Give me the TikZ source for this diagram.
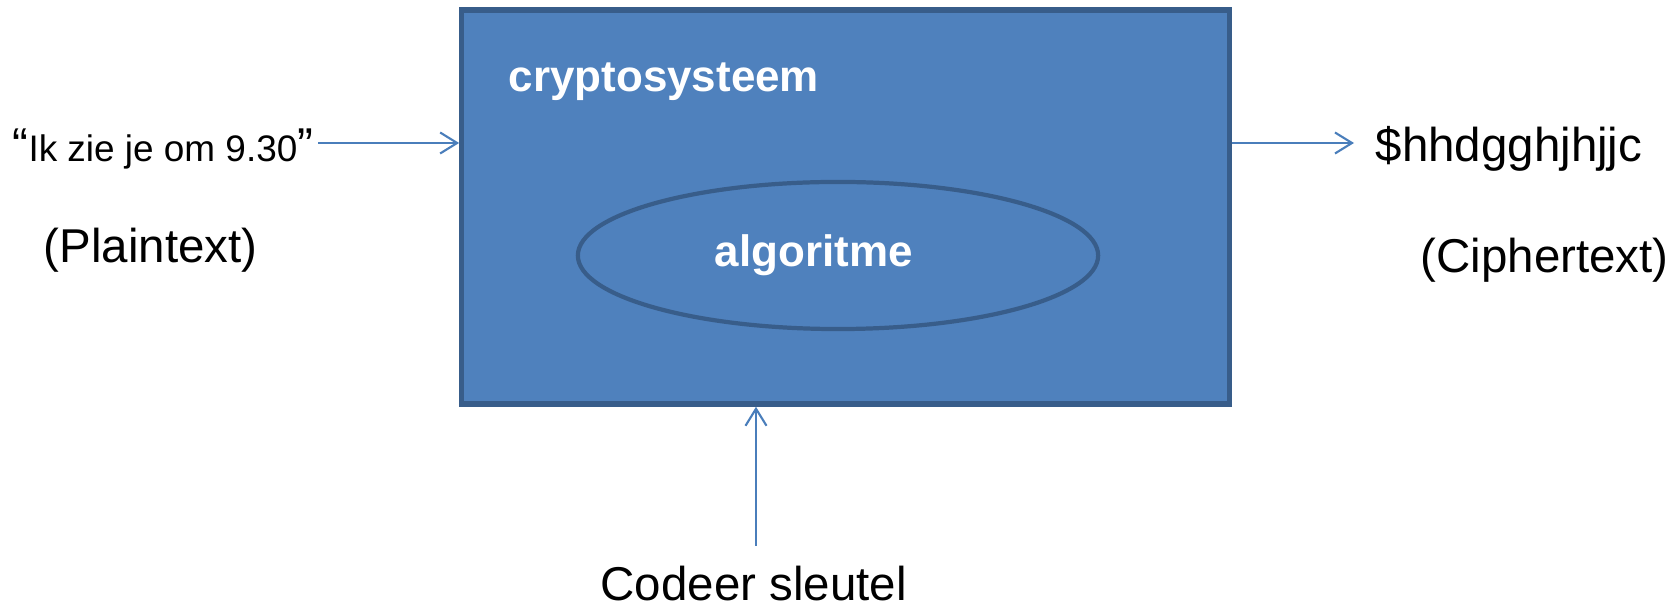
\documentclass[tikz,border=0pt]{standalone}
\usepackage{fontspec}
\setmainfont{Liberation Sans}
\usetikzlibrary{arrows.meta,shapes.geometric}

\definecolor{boxfill}{HTML}{4F81BD}
\definecolor{boxline}{HTML}{385D8A}
\definecolor{arrowline}{HTML}{4A7EBB}

\begin{document}
\begin{tikzpicture}[x=0.01cm, y=-0.01cm,
    flow/.style={draw=arrowline, line width=0.6pt,
        -{Straight Barb[length=1.7mm,width=2.1mm]}},
    inlabel/.style={text=white, anchor=base west, inner sep=0pt,
        font=\fontsize{12.5}{15}\selectfont\bfseries},
    outlabel/.style={anchor=base west, inner sep=0pt,
        font=\fontsize{13.5}{16}\selectfont}
]

\useasboundingbox (0,0) rectangle (1679,607);

% cryptosystem
\node (crypto) [draw=boxline, fill=boxfill, line width=1.5pt,
    minimum width=7.67cm, minimum height=3.94cm] at (845.5,207) {};
\node (algo) [ellipse, draw=boxline, line width=1.2pt,
    minimum width=5.2cm, minimum height=1.47cm] at (838,255.5) {};

\node (cryptolabel) [inlabel] at (508,92)  {cryptosysteem};
\node (algolabel)   [inlabel] at (714,267) {algoritme};

% plaintext and ciphertext
\node (plain)  [outlabel] at (12,162)
    {“{\fontsize{10.5}{13}\selectfont Ik zie je om 9.30}”};
\node (plainname)  [outlabel] at (43,263)   {(Plaintext)};
\node (cipher)     [outlabel] at (1375,162) {\$hhdgghjhjjc};
\node (ciphername) [outlabel] at (1420,273) {(Ciphertext)};
\node (key)        [outlabel] at (600,601)  {Codeer sleutel};

% arrows
\coordinate (in)  at (318,143);
\coordinate (out) at (1354,143);
\coordinate (keyend) at (756,546);

\draw[flow] (in) -- (in -| crypto.west);
\draw[flow] (out -| crypto.east) -- (out);
\draw[flow] (keyend) -- (keyend |- crypto.south);

\end{tikzpicture}
\end{document}
